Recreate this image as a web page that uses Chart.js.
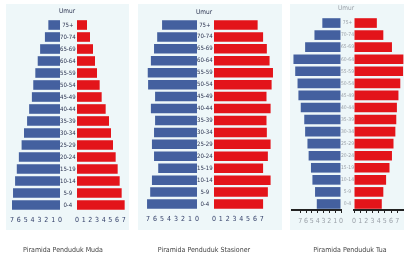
<!DOCTYPE html>
<html>
<head>
<meta charset="utf-8">
<script src="https://cdn.jsdelivr.net/npm/chart.js@4/dist/chart.umd.min.js"></script>
<style>
  html, body { margin: 0; padding: 0; background: #fff; }
  #wrap { position: relative; width: 404px; height: 258px; overflow: hidden;
          font-family: 'Liberation Sans Narrow', 'DejaVu Sans Condensed', sans-serif; }
  .bg { position: absolute; background: #eef7f9; }
  canvas { position: absolute; }
  .umur, .cap { position: absolute; transform: translate(-50%, -50%); white-space: nowrap; will-change: transform; }
  .umur { font-size: 6.5px; }
  .cap { font-size: 7px; color: #444; }
</style>
</head>
<body>
<div id="wrap">
  <div class="bg" style="left:6px;top:4px;width:123px;height:226px"></div>
  <div class="bg" style="left:138px;top:4px;width:144px;height:226px"></div>
  <div class="bg" style="left:290px;top:4px;width:114px;height:226px"></div>
  <div class="umur" style="left:67px;top:11px;color:#2b3350">Umur</div>
  <div class="umur" style="left:204px;top:12px;color:#2b3350">Umur</div>
  <div class="umur" style="left:346px;top:8px;color:#9aa0a8">Umur</div>
  <div class="cap" style="left:63px;top:250px">Piramida Penduduk Muda</div>
  <div class="cap" style="left:204px;top:250px">Piramida Penduduk Stasioner</div>
  <div class="cap" style="left:350px;top:250px">Piramida Penduduk Tua</div>
</div>
<script>
// kelompok umur, dari atas ke bawah
const ageGroups = ['75+', '70-74', '65-69', '60-64', '55-59', '50-54', '45-49', '40-44',
                   '35-39', '30-34', '25-29', '20-24', '15-19', '10-14', '5-9', '0-4'];

// persen penduduk (kiri = laki-laki, kanan = perempuan)
const mudaLaki      = [1.7, 2.2, 2.9, 3.25, 3.6, 3.9, 4.1, 4.5, 4.8, 5.25, 5.6, 6.0, 6.3, 6.55, 6.85, 7.0];
const mudaPerempuan = [1.5, 1.95, 2.4, 2.7, 3.0, 3.4, 3.7, 4.3, 4.8, 5.1, 5.4, 5.8, 6.1, 6.4, 6.7, 7.15];

const stasionerLaki      = [5.0, 5.7, 6.15, 6.6, 7.05, 7.0, 6.0, 6.6, 6.0, 6.15, 6.45, 6.15, 5.55, 6.45, 6.7, 7.15];
const stasionerPerempuan = [6.4, 7.2, 7.75, 8.15, 8.65, 8.45, 7.7, 8.3, 7.7, 7.75, 8.3, 7.9, 7.2, 8.3, 7.9, 7.2];

const tuaLaki      = [3.2, 4.55, 6.15, 8.15, 7.85, 7.45, 7.3, 6.9, 6.3, 6.15, 5.75, 5.55, 5.15, 4.9, 4.45, 4.15];
const tuaPerempuan = [3.7, 4.75, 6.15, 8.0, 7.95, 7.5, 7.2, 6.95, 6.85, 6.7, 6.4, 6.15, 5.75, 5.2, 4.75, 4.5];

const xTickLabels = [0, 1, 2, 3, 4, 5, 6, 7];

const BLUE = '#44609f';
const RED = '#e3141a';
const FONT = "'Liberation Sans Narrow', 'DejaVu Sans Condensed', sans-serif";

// tata letak tiap piramida (piksel)
const panels = [
  { left: mudaLaki, right: mudaPerempuan, top: 19, bottom: 211,
    L: { zero: 60, px: 6.86, max: 7.0 }, R: { zero: 77, px: 6.7, max: 7.2 },
    tickColor: '#34406a', ageColor: '#2b3350', axisLine: false },
  { left: stasionerLaki, right: stasionerPerempuan, top: 19, bottom: 210,
    L: { zero: 197, px: 7.0, max: 7.3 }, R: { zero: 214, px: 6.86, max: 8.8 },
    tickColor: '#34406a', ageColor: '#2b3350', axisLine: false },
  { left: tuaLaki, right: tuaPerempuan, top: 17, bottom: 210,
    L: { zero: 341, px: 5.86, max: 8.4 }, R: { zero: 354, px: 6.14, max: 8.1 },
    tickColor: '#9aa0a8', ageColor: '#9aa0a8', axisLine: true }
];

const wrap = document.getElementById('wrap');

function makeHalf(p, isLeft) {
  const g = isLeft ? p.L : p.R;
  const gap = p.R.zero - p.L.zero;
  const pad = 10;
  const padT = 4;
  const xh = 15;
  const span = g.max * g.px;
  const canvas = document.createElement('canvas');
  canvas.width = Math.round(pad + span + (isLeft ? gap : pad));
  canvas.height = padT + (p.bottom - p.top) + xh;
  canvas.style.left = (isLeft ? p.L.zero - span - pad : p.R.zero - pad) + 'px';
  canvas.style.top = (p.top - padT) + 'px';
  wrap.appendChild(canvas);

  new Chart(canvas.getContext('2d'), {
    type: 'bar',
    data: {
      labels: ageGroups,
      datasets: [{
        data: isLeft ? p.left : p.right,
        backgroundColor: isLeft ? BLUE : RED,
        borderWidth: 0,
        barPercentage: 0.8,
        categoryPercentage: 1.0
      }]
    },
    options: {
      indexAxis: 'y',
      responsive: false,
      animation: false,
      events: [],
      layout: { padding: { left: pad, top: padT, right: isLeft ? 0 : pad, bottom: 0 } },
      plugins: { legend: { display: false }, tooltip: { enabled: false } },
      scales: {
        x: {
          type: 'linear',
          reverse: isLeft,
          min: 0,
          max: g.max,
          afterBuildTicks: s => { s.ticks = xTickLabels.map(v => ({ value: v })); },
          afterFit: s => { s.height = xh; },
          ticks: {
            autoSkip: false,
            maxRotation: 0,
            padding: p.axisLine ? 4 : 5,
            color: p.tickColor,
            font: { family: FONT, size: 7 }
          },
          grid: {
            display: p.axisLine,
            drawOnChartArea: false,
            drawTicks: p.axisLine,
            tickLength: 3,
            color: '#222'
          },
          border: { display: p.axisLine, color: '#222', width: 2 }
        },
        y: {
          display: isLeft,
          position: 'right',
          afterFit: s => { if (isLeft) s.width = gap; },
          ticks: {
            crossAlign: 'center',
            padding: 0,
            autoSkip: false,
            color: p.ageColor,
            font: { family: FONT, size: p.axisLine ? 5 : 6 }
          },
          grid: { display: false, drawTicks: false },
          border: { display: false }
        }
      }
    }
  });
}

panels.forEach(p => {
  makeHalf(p, true);
  makeHalf(p, false);
});
</script>
</body>
</html>
